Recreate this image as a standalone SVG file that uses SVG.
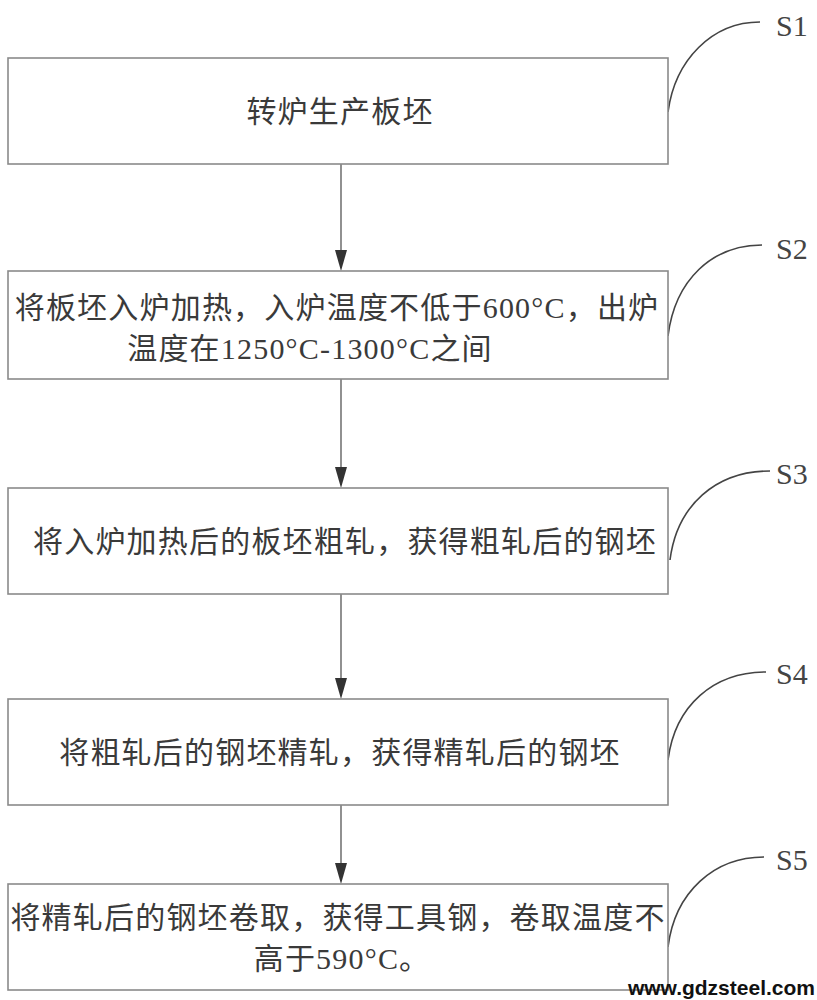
<svg xmlns="http://www.w3.org/2000/svg" width="817" height="1000" viewBox="0 0 817 1000">
<style>
.box{fill:#fff;stroke:#8a8a8a;stroke-width:1.6}
.t{font-family:"Liberation Serif","Noto Sans CJK SC",serif;font-size:30px;fill:#3a3a3a;text-anchor:middle;letter-spacing:1.2px}
.s{font-family:"Liberation Serif",serif;font-size:30px;fill:#444}
.lead{fill:none;stroke:#444;stroke-width:1.6}
.ar{stroke:#555;stroke-width:1.3;fill:none}
.ah{fill:#333}
</style>
<rect width="817" height="1000" fill="#fff"/>
<g id="connectors">
<line class="ar" x1="341" y1="164" x2="341" y2="252"/>
<polygon class="ah" points="335,250 347,250 341,271"/>
<line class="ar" x1="341" y1="379" x2="341" y2="469"/>
<polygon class="ah" points="335,467 347,467 341,488"/>
<line class="ar" x1="341" y1="594" x2="341" y2="680"/>
<polygon class="ah" points="335,678 347,678 341,699"/>
<line class="ar" x1="341" y1="805" x2="341" y2="865"/>
<polygon class="ah" points="335,863 347,863 341,884"/>
<path class="lead" d="M668,112 C675,60 712,22 760,22"/>
<path class="lead" d="M668,336 C675,280 712,245 762,245"/>
<path class="lead" d="M670,560 C677,505 716,471 770,471"/>
<path class="lead" d="M668,760 C675,705 714,672 766,672"/>
<path class="lead" d="M668,947 C675,892 714,857 764,857"/>
</g>
<g id="n1">
<rect class="box" x="8" y="58" width="660" height="106"/>
<text class="t" x="340" y="122">转炉生产板坯</text>
<text class="s" x="776" y="36">S1</text>
</g>
<g id="n2">
<rect class="box" x="8" y="271" width="660" height="108"/>
<text class="t" x="337" y="318">将板坯入炉加热，入炉温度不低于600°C，出炉</text>
<text class="t" x="310" y="359">温度在1250°C-1300°C之间</text>
<text class="s" x="776" y="259">S2</text>
</g>
<g id="n3">
<rect class="box" x="8" y="488" width="660" height="106"/>
<text class="t" x="345" y="552">将入炉加热后的板坯粗轧，获得粗轧后的钢坯</text>
<text class="s" x="776" y="484">S3</text>
</g>
<g id="n4">
<rect class="box" x="8" y="699" width="660" height="106"/>
<text class="t" x="340" y="763">将粗轧后的钢坯精轧，获得精轧后的钢坯</text>
<text class="s" x="776" y="684">S4</text>
</g>
<g id="n5">
<rect class="box" x="8" y="884" width="660" height="106"/>
<text class="t" x="338" y="928">将精轧后的钢坯卷取，获得工具钢，卷取温度不</text>
<text class="t" x="342" y="969">高于590°C。</text>
<text class="s" x="776" y="870">S5</text>
</g>
<text x="815" y="995" text-anchor="end" font-family="Liberation Sans,Arial,sans-serif" font-weight="bold" font-size="21" fill="#111">www.gdzsteel.com</text>
</svg>
